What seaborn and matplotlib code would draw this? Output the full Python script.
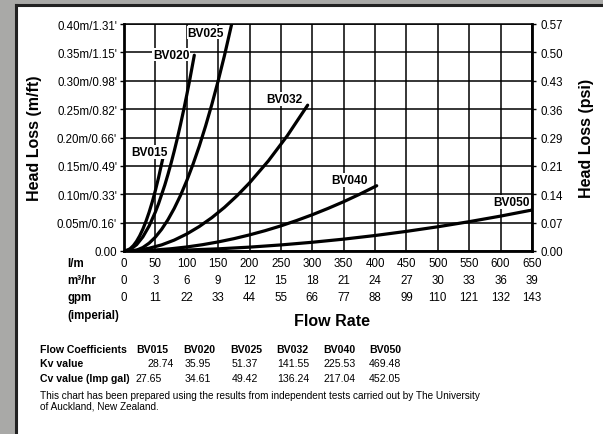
import matplotlib
matplotlib.use("Agg")
import matplotlib.pyplot as plt
import matplotlib.transforms as mtransforms
import pandas as pd
import seaborn as sns

# Values (flow in l/m, head loss in m)
bv015_flow = [0, 5, 10, 15, 20, 25, 30, 35, 40, 45, 50, 55, 61.6]
bv015_head = [0, 0.0011, 0.0043, 0.0096, 0.0171, 0.0267, 0.0384, 0.0523, 0.0683,
              0.0864, 0.1067, 0.1291, 0.162]
bv020_flow = [0, 10, 20, 30, 40, 50, 55, 65, 70, 75, 80, 85, 90, 95, 100, 105, 112]
bv020_head = [0, 0.0028, 0.011, 0.0248, 0.044, 0.0688, 0.0832, 0.1162, 0.1348, 0.1547,
              0.176, 0.1987, 0.2228, 0.2482, 0.275, 0.3032, 0.345]
bv025_flow = [0, 10, 20, 30, 40, 50, 60, 70, 80, 90, 100, 110, 120, 130, 140, 150, 160, 175]
bv025_head = [0, 0, 0.0015, 0.0061, 0.0138, 0.0245, 0.0383, 0.0551, 0.075, 0.0979, 0.1239,
              0.153, 0.185, 0.2203, 0.2585, 0.2998, 0.3442, 0.4165]
bv032_flow = [0, 20, 40, 60, 80, 100, 120, 140, 160, 180, 200, 230, 260, 292.6]
bv032_head = [0, 0.0012, 0.0048, 0.0108, 0.0192, 0.030, 0.0432, 0.0588, 0.0768, 0.0973,
              0.1201, 0.1588, 0.2029, 0.257]
bv040_flow = [0, 25, 50, 75, 100, 125, 150, 175, 200, 225, 250, 275, 300, 325, 350, 375, 402.6]
bv040_head = [0, 0.0004, 0.0018, 0.004, 0.0071, 0.0111, 0.016, 0.0217, 0.0284, 0.0359,
              0.0443, 0.0537, 0.0639, 0.075, 0.0869, 0.0998, 0.115]
bv050_flow = [0, 50, 100, 150, 200, 250, 300, 350, 400, 450, 500, 550, 600, 650]
bv050_head = [0, 0.0004, 0.0017, 0.0038, 0.0068, 0.0107, 0.0154, 0.0209, 0.0273, 0.0346,
              0.0427, 0.0517, 0.0615, 0.0722]

valves = ["BV015", "BV020", "BV025", "BV032", "BV040", "BV050"]
curves = {
    "BV015": (bv015_flow, bv015_head),
    "BV020": (bv020_flow, bv020_head),
    "BV025": (bv025_flow, bv025_head),
    "BV032": (bv032_flow, bv032_head),
    "BV040": (bv040_flow, bv040_head),
    "BV050": (bv050_flow, bv050_head),
}
# label anchor points (flow, head)
label_pos = {
    "BV015": (40, 0.1745), "BV020": (75, 0.346), "BV025": (130, 0.385),
    "BV032": (255, 0.268), "BV040": (359, 0.125), "BV050": (617, 0.0858),
}

flow_lm = [0, 50, 100, 150, 200, 250, 300, 350, 400, 450, 500, 550, 600, 650]
flow_m3 = ["0", "3", "6", "9", "12", "15", "18", "21", "24", "27", "30", "33", "36", "39"]
flow_gpm = ["0", "11", "22", "33", "44", "55", "66", "77", "88", "99", "110", "121", "132", "143"]

head_ticks = [0, 0.05, 0.10, 0.15, 0.20, 0.25, 0.30, 0.35, 0.40]
head_labels = ["0.00", "0.05m/0.16'", "0.10m/0.33'", "0.15m/0.49'", "0.20m/0.66'",
               "0.25m/0.82'", "0.30m/0.98'", "0.35m/1.15'", "0.40m/1.31'"]
psi_labels = ["0.00", "0.07", "0.14", "0.21", "0.29", "0.36", "0.43", "0.50", "0.57"]

kv_values = ["28.74", "35.95", "51.37", "141.55", "225.53", "469.48"]
cv_values = ["27.65", "34.61", "49.42", "136.24", "217.04", "452.05"]

sns.set_style("white")
plt.rcParams['font.family'] = ['Liberation Sans', 'DejaVu Sans']
plt.rcParams['text.color'] = 'black'
plt.rcParams['xtick.color'] = 'black'
plt.rcParams['ytick.color'] = 'black'
plt.rcParams['axes.labelcolor'] = 'black'

W, H = 603, 435
fig = plt.figure(figsize=(W / 100, H / 100), dpi=100)
fig.patch.set_facecolor("#a9a9a7")

# white panel with dark border on left / top
bg = fig.add_axes([16 / W, -0.02, 1.0, 1 - 6 / H + 0.02], zorder=-5)
bg.set_facecolor("white")
bg.set_xticks([])
bg.set_yticks([])
for s in ["right", "bottom"]:
    bg.spines[s].set_visible(False)
for s in ["left", "top"]:
    bg.spines[s].set_linewidth(2.2)
    bg.spines[s].set_color("#222222")

ax = fig.add_axes([124 / W, 1 - 252 / H, 408 / W, 227 / H], zorder=1)
ax.set_facecolor("white")

rows = []
for v in valves:
    fl, hd = curves[v]
    rows.append(pd.DataFrame({"flow": fl, "head": hd, "valve": v}))
df = pd.concat(rows, ignore_index=True)

sns.lineplot(data=df, x="flow", y="head", units="valve", estimator=None, sort=False,
             color="black", linewidth=2.3, ax=ax, legend=False, zorder=3,
             solid_capstyle="round", solid_joinstyle="round")

for v in valves:
    lx, ly = label_pos[v]
    ax.text(lx, ly, v, ha="center", va="center", fontsize=8.6, fontweight="bold",
            zorder=4, bbox=dict(facecolor="white", edgecolor="none", pad=0.6))

ax.set_xlim(0, 650)
ax.set_ylim(0, 0.40)
ax.set_xticks(flow_lm)
ax.set_xticklabels([])
ax.set_yticks(head_ticks)
ax.set_yticklabels(head_labels, fontsize=8.3)
ax.grid(True, color="black", linewidth=1.1, zorder=1)
ax.set_axisbelow(True)
for s in ["left", "right", "bottom"]:
    ax.spines[s].set_linewidth(2.0)
    ax.spines[s].set_color("black")
ax.spines["top"].set_linewidth(1.1)
ax.spines["top"].set_color("black")
ax.tick_params(axis="both", direction="out", length=3, width=1, color="black", pad=2)
ax.set_xlabel("")
ax.set_ylabel("")

ax2 = ax.twinx()
ax2.set_ylim(0, 0.40)
ax2.set_yticks(head_ticks)
ax2.set_yticklabels(psi_labels, fontsize=8.3)
ax2.tick_params(axis="y", direction="out", length=3, width=1, pad=3)
for s in ax2.spines.values():
    s.set_visible(False)

# flow rate rows under the axis
trans = mtransforms.blended_transform_factory(ax.transData, fig.transFigure)
row_y = [1 - 264 / H, 1 - 281 / H, 1 - 298 / H]
for i, x in enumerate(flow_lm):
    fig.text(x, row_y[0], str(x), transform=trans, ha="center", va="center", fontsize=8.3)
    fig.text(x, row_y[1], flow_m3[i], transform=trans, ha="center", va="center", fontsize=8.3)
    fig.text(x, row_y[2], flow_gpm[i], transform=trans, ha="center", va="center", fontsize=8.3)
for txt, py in zip(["l/m", "m³/hr", "gpm", "(imperial)"], [264, 281, 298, 316]):
    fig.text(67 / W, 1 - py / H, txt, ha="left", va="center", fontsize=8.3, fontweight="bold")

fig.text(332 / W, 1 - 321 / H, "Flow Rate", ha="center", va="center",
         fontsize=11.5, fontweight="bold")
fig.text(35 / W, 1 - 138 / H, "Head Loss (m/ft)", ha="center", va="center",
         rotation=90, fontsize=11.5, fontweight="bold")
fig.text(587 / W, 1 - 138 / H, "Head Loss (psi)", ha="center", va="center",
         rotation=90, fontsize=11.5, fontweight="bold")

# flow coefficient table
col_x = [136, 183, 230, 276, 323, 369]
kv_x = [147, 185, 232, 277, 323, 369]
cv_x = [135, 185, 232, 277, 323, 369]
ty = [350, 364, 379]
fig.text(40 / W, 1 - ty[0] / H, "Flow Coefficients", fontsize=7.6, fontweight="bold", va="center")
fig.text(40 / W, 1 - ty[1] / H, "Kv value", fontsize=7.6, fontweight="bold", va="center")
fig.text(40 / W, 1 - ty[2] / H, "Cv value (Imp gal)", fontsize=7.6, fontweight="bold", va="center")
for i, v in enumerate(valves):
    fig.text(col_x[i] / W, 1 - ty[0] / H, v, fontsize=7.6, fontweight="bold", va="center")
    fig.text(kv_x[i] / W, 1 - ty[1] / H, kv_values[i], fontsize=7.6, va="center")
    fig.text(cv_x[i] / W, 1 - ty[2] / H, cv_values[i], fontsize=7.6, va="center")

fig.text(40 / W, 1 - 396 / H,
         "This chart has been prepared using the results from independent tests carried out by The University",
         fontsize=7.2, va="center")
fig.text(40 / W, 1 - 407 / H, "of Auckland, New Zealand.", fontsize=7.2, va="center")

fig.savefig("out.png", dpi=100, facecolor=fig.get_facecolor())
